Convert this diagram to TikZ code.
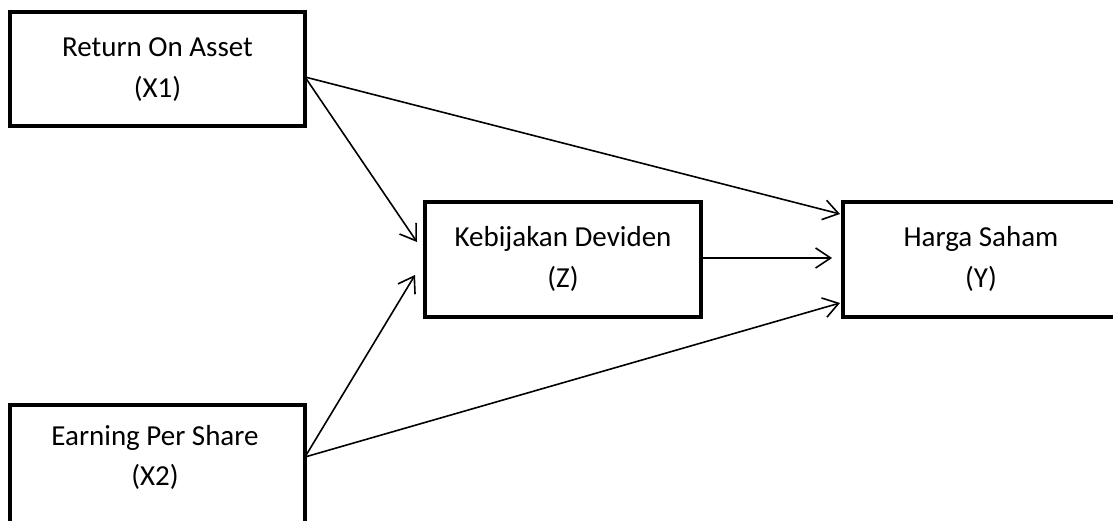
\documentclass[tikz,border=0pt]{standalone}
\usepackage{fontspec}
\setmainfont{Carlito}
\usetikzlibrary{arrows.meta,calc}

\tikzset{
  varbox/.style={draw, line width=4pt, inner sep=0pt, outer sep=0pt, rectangle},
  varlabel/.style={anchor=base, inner sep=0pt, font=\fontsize{29}{40}\selectfont},
  link/.style={line width=1.6pt, -{Straight Barb[length=15pt,width=20pt,line width=1.6pt]}},
}

\begin{document}
\begin{tikzpicture}[x=1pt,y=1pt]
  \useasboundingbox (0,0) rectangle (1113,520);
  \clip (0,0) rectangle (1113,520);

  % variable boxes
  \node[varbox, minimum width=295pt, minimum height=114pt] (x1) at (157.5,451) {};
  \node[varbox, minimum width=295pt, minimum height=135pt] (x2) at (157.5,47.5) {};
  \node[varbox, line width=3.6pt, minimum width=276pt, minimum height=115pt] (z) at (563,260.5) {};
  \node[varbox, minimum width=277pt, minimum height=115pt] (y) at (981.5,260.5) {};

  % box captions
  \node[varlabel] (x1a) at (157.5,463) {Return On Asset};
  \node[varlabel] (x1b) at (157.5,422) {(X1)};
  \node[varlabel] (x2a) at (155,75) {Earning Per Share};
  \node[varlabel] (x2b) at (155,35) {(X2)};
  \node[varlabel] (za) at (563,273) {Kebijakan Deviden};
  \node[varlabel] (zb) at (563,233) {(Z)};
  \node[varlabel] (ya) at (981,273) {Harga Saham};
  \node[varlabel] (yb) at (981,233) {(Y)};

  % connector end points on the box sides
  \coordinate (x1o) at ([yshift=-8pt]x1.east);
  \coordinate (x2o) at ([yshift=15.5pt]x2.east);
  \coordinate (zi1) at ([xshift=-8pt,yshift=17.5pt]z.west);
  \coordinate (zi2) at ([xshift=-10pt,yshift=-15.5pt]z.west);
  \coordinate (zo) at ([yshift=1.5pt]z.east);
  \coordinate (yi1) at ([xshift=-3pt,yshift=45.5pt]y.west);
  \coordinate (yi2) at ([xshift=-11pt,yshift=1.5pt]y.west);
  \coordinate (yi3) at ([xshift=-3pt,yshift=-43.5pt]y.west);

  % paths
  \draw[link] (x1o) -- (zi1);
  \draw[link] (x1o) -- (yi1);
  \draw[link] (x2o) -- (zi2);
  \draw[link] (x2o) -- (yi3);
  \draw[link] (zo) -- (yi2);
\end{tikzpicture}
\end{document}
